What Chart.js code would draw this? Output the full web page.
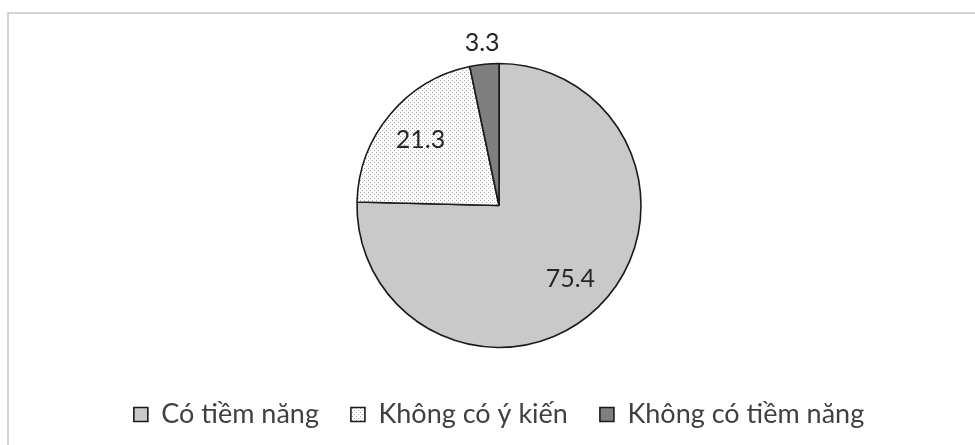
<!DOCTYPE html>
<html>
<head>
<meta charset="utf-8">
<script src="https://cdn.jsdelivr.net/npm/chart.js@4.4.0/dist/chart.umd.min.js"></script>
<style>
  html, body { margin: 0; padding: 0; background: #fff; }
  #wrap { position: relative; width: 975px; height: 445px; overflow: hidden; }
  #frame { position: absolute; left: 7px; top: 12px; right: 0; bottom: 0;
    border-top: 2px solid #d4d4d4; border-left: 2px solid #d4d4d4; }
  canvas { position: absolute; left: 0; top: 0; }
</style>
</head>
<body>
<div id="wrap">
  <div id="frame"></div>
  <canvas id="chart" width="975" height="450"></canvas>
</div>
<script>
/* global Chart */
const labels = ['Có tiềm năng', 'Không có ý kiến', 'Không có tiềm năng'];
const values = [75.4, 21.3, 3.3];
const valueText = ['75.4', '21.3', '3.3'];

// dotted fill for the middle slice
function dotPattern() {
	const c = document.createElement('canvas');
	c.width = 4;
	c.height = 4;
	const ctx = c.getContext('2d');
	ctx.fillStyle = '#ffffff';
	ctx.fillRect(0, 0, 4, 4);
	ctx.fillStyle = '#a8a8a8';
	ctx.fillRect(0, 0, 1, 1);
	ctx.fillRect(2, 2, 1, 1);
	return ctx.createPattern(c, 'repeat');
}

// valores sobre el gráfico
const sliceLabels = {
	id: 'sliceLabels',
	afterDatasetsDraw(chart) {
		const ctx = chart.ctx;
		const arcs = chart.getDatasetMeta(0).data;
		ctx.save();
		ctx.font = '25px Lato';
		ctx.fillStyle = '#262626';
		ctx.textAlign = 'center';
		ctx.textBaseline = 'middle';
		arcs.forEach((arc, i) => {
			const mid = (arc.startAngle + arc.endAngle) / 2;
			const r = i === 2 ? arc.outerRadius + 21 : arc.outerRadius * 0.72;
			ctx.fillText(valueText[i], arc.x + Math.cos(mid) * r, arc.y + Math.sin(mid) * r);
		});
		ctx.restore();
	}
};

const canvas = document.getElementById('chart');

const graph = new Chart(canvas, {
	type: 'pie',
	data: {
		labels,
		datasets: [{
			data: values,
			backgroundColor: ['#c9c9c9', dotPattern(), '#7f7f7f'],
			borderColor: '#1a1a1a',
			borderWidth: 1.6,
			radius: 142
		}]
	},
	options: {
		responsive: false,
		animation: false,
		layout: {
			padding: { top: 42, bottom: 12, left: 23, right: 0 }
		},
		plugins: {
			tooltip: { enabled: false },
			legend: {
				position: 'bottom',
				labels: {
					boxWidth: 14,
					boxHeight: 14,
					padding: 32,
					color: '#404040',
					font: { family: 'Lato', size: 27 }
				}
			}
		}
	},
	plugins: [sliceLabels]
});
</script>
</body>
</html>
